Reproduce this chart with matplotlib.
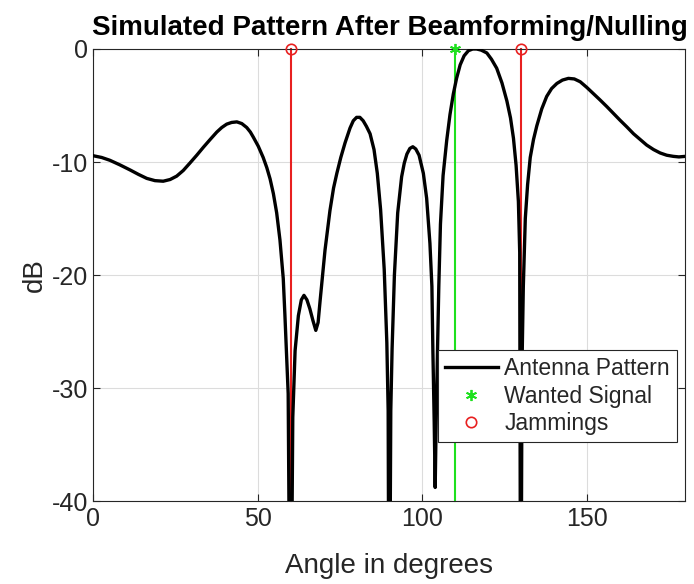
import matplotlib
matplotlib.use("Agg")
import matplotlib.pyplot as plt
from matplotlib.lines import Line2D

plt.rcParams['font.family'] = ['Liberation Sans', 'DejaVu Sans']
plt.rcParams['axes.unicode_minus'] = False

# Antenna pattern (angle in degrees, dB)
angles = [0, 2.5, 5.0, 8.0, 11.1, 13.7, 16.2, 18.7, 21.2, 23.3, 25.3, 27.3, 29.3, 31.4, 33.4,
          35.5, 37.5, 39.0, 40.5, 42.0, 43.6, 45.1, 46.6, 47.7, 48.6,
          50.1, 51.6, 52.7, 53.7, 54.7, 55.7, 56.7, 57.7, 58.2, 59.2, 59.9,
          60.6, 61.3, 62.3, 63.2, 64.0, 64.9, 65.8, 66.7, 67.6, 68.3, 68.9, 69.6, 70.4,
          71.9, 73.0, 74.0, 75.2, 76.5, 77.3, 78.0, 79.0, 80.0, 81.0, 82.0, 83.0, 84.1, 85.3,
          86.3, 87.3, 88.4, 89.2, 89.6, 89.9,
          90.4, 90.8, 91.5, 92.5, 93.7, 94.5, 95.3, 96.2, 97.1, 98.0, 99.0, 100.3, 101.3,
          102.3, 102.9, 103.2, 103.6, 103.9,
          104.2, 104.6, 105.0, 105.5, 106.3, 107.4, 108.4, 109.4, 110.4, 111.5, 112.7,
          114.0, 115.3, 116.5, 117.9, 119.6, 121.0, 122.6, 124.2, 125.7, 126.8, 127.7,
          128.5, 129.2, 129.6, 129.9,
          130.3, 130.7, 131.3, 132.0, 132.8, 133.8, 134.8, 136.3, 137.8, 139.3, 140.9,
          142.6, 144.4, 146.2, 148.0, 150.0, 152.0, 154.0, 156.1, 158.1, 160.1, 162.2,
          164.2, 166.2, 168.2, 170.3, 172.3, 174.3, 176.3, 178.0, 180.0]
pattern_db = [-9.45, -9.6, -9.85, -10.25, -10.7, -11.1, -11.45, -11.65, -11.7, -11.55, -11.25,
              -10.75, -10.1, -9.4, -8.7, -8.0, -7.35, -6.95, -6.65, -6.5, -6.45, -6.6, -6.95,
              -7.35, -7.8,
              -8.6, -9.6, -10.5, -11.5, -12.8, -14.5, -16.9, -20.3, -23.5, -30.5, -60.0,
              -32.6, -26.7, -23.6, -22.2, -21.8, -22.2, -23.0, -24.0, -24.9, -24.2, -22.3,
              -20.2, -17.8,
              -14.3, -12.3, -11.0, -9.6, -8.3, -7.6, -7.0, -6.35, -6.05, -6.05, -6.35, -6.85,
              -7.5, -8.9,
              -11.0, -14.2, -19.5, -26.0, -32.0, -60.0,
              -32.0, -26.5, -20.0, -14.5, -11.3, -10.1, -9.3, -8.8, -8.65, -8.85, -9.4, -11.0,
              -13.2, -17.2, -21.0, -26.7, -33.0, -38.8,
              -33.0, -26.7, -21.0, -15.5, -11.2, -8.1, -5.8, -4.0, -2.6, -1.4, -0.6,
              -0.15, 0.0, 0.0, -0.1, -0.35, -0.9, -1.7, -3.0, -4.6, -6.1, -7.9,
              -10.3, -13.5, -18.0, -60.0,
              -28.0, -21.0, -15.0, -12.0, -9.6, -8.0, -6.8, -5.3, -4.2, -3.5, -3.05,
              -2.75, -2.6, -2.65, -2.9, -3.4, -3.95, -4.5, -5.1, -5.7, -6.3, -6.9,
              -7.5, -8.0, -8.5, -8.9, -9.2, -9.4, -9.5, -9.55, -9.5]

wanted_angle = [110]
wanted_level = [0]
jam_angles = [60, 130]
jam_levels = [0, 0]

title = "Simulated Pattern After Beamforming/Nulling"
xlabel = "Angle in degrees"
ylabel = "dB"
legend_labels = ["Antenna Pattern", "Wanted Signal", "Jammings"]
xticks = [0, 50, 100, 150]
yticks = [-40, -30, -20, -10, 0]

fig = plt.figure(figsize=(6.94, 5.84), dpi=100)
ax = fig.add_axes([0.1347, 0.1421, 0.8530, 0.7740])

green = '#1ee01e'
red = '#e82020'
asterisk = (6, 2, 0)

for a, l in zip(jam_angles, jam_levels):
    ax.plot([a, a], [-40, l], color=red, lw=1.5, zorder=2, clip_on=False)
    ax.plot([a], [l], marker='o', ms=7.5, mfc='none', mec=red, mew=1.2, zorder=4, clip_on=False)
for a, l in zip(wanted_angle, wanted_level):
    ax.plot([a, a], [-40, l], color=green, lw=1.5, zorder=2, clip_on=False)
    ax.plot([a], [l], marker=asterisk, ms=8, color=green, mec=green, mew=1.3, zorder=4,
            clip_on=False, linestyle='none')

ax.plot(angles, pattern_db, color='black', lw=2.4, zorder=3, solid_joinstyle='round')

ax.set_xlim(0, 180)
ax.set_ylim(-40, 0)
ax.set_xticks(xticks)
ax.set_yticks(yticks)
ax.grid(True, color='#dcdcdc', lw=0.8)
ax.set_axisbelow(True)
ax.tick_params(direction='in', top=True, right=True, labelsize=18, length=5, width=0.8,
               colors='#262626', labelcolor='#262626', pad=4)
for s in ax.spines.values():
    s.set_color('#262626')
    s.set_linewidth(0.8)

ax.set_title(title, fontsize=20, fontweight='bold', pad=10)
ax.set_xlabel(xlabel, fontsize=20, color='#262626', labelpad=16)
ax.set_ylabel(ylabel, fontsize=20, color='#262626', labelpad=3)

handles = [Line2D([], [], color='black', lw=2.4),
           Line2D([], [], color=green, marker=asterisk, linestyle='none', ms=8, mew=1.3),
           Line2D([], [], color=red, marker='o', mfc='none', linestyle='none', ms=7.5, mew=1.2)]
leg = ax.legend(handles, legend_labels, loc='lower left', bbox_to_anchor=(0.582, 0.1305),
                borderaxespad=0, fontsize=16.5, frameon=True, fancybox=False, framealpha=1,
                edgecolor='#262626', handlelength=2.3, handletextpad=0.3, labelspacing=0.2,
                borderpad=0.3)
leg.get_frame().set_linewidth(0.8)
for t in leg.get_texts():
    t.set_color('#262626')

fig.savefig('out.png', dpi=100)
